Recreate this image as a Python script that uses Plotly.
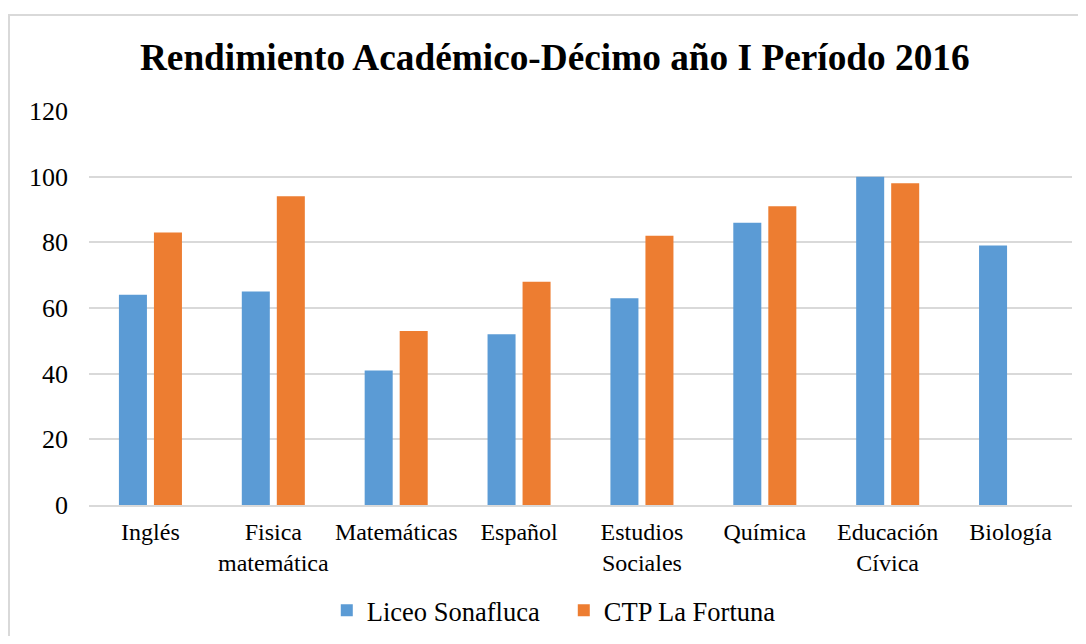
import plotly.graph_objects as go

materias = ["Inglés", "Fisica<br>matemática", "Matemáticas", "Español", "Estudios<br>Sociales",
            "Química", "Educación<br>Cívica", "Biología"]
liceo_sonafluca = [64, 65, 41, 52, 63, 86, 100, 79]
ctp_la_fortuna = [83, 94, 53, 68, 82, 91, 98, None]
y_ticks = [0, 20, 40, 60, 80, 100, 120]

font_fam = "Liberation Serif"

fig = go.Figure()
fig.add_trace(go.Bar(x=materias, y=liceo_sonafluca, name="Liceo Sonafluca",
                     marker=dict(color="#5B9BD5", line=dict(width=0))))
fig.add_trace(go.Bar(x=materias, y=ctp_la_fortuna, name="CTP La Fortuna",
                     marker=dict(color="#ED7D31", line=dict(width=0))))

# page has an 8px body margin, so the figure is a bit smaller than the window
fig.update_layout(
    width=1070, height=628,
    margin=dict(l=81, r=6, t=103, b=131, autoexpand=False),
    paper_bgcolor="white", plot_bgcolor="white",
    font=dict(family=font_fam, color="black", size=24),
    title=dict(text="<b>Rendimiento Académico-Décimo año I Período 2016</b>",
               x=0.511, xanchor="center", y=0.922, yanchor="middle",
               font=dict(size=37.3, family=font_fam, color="black")),
    barmode="group", bargap=0.43, bargroupgap=0.2,
    showlegend=True,
    legend=dict(orientation="h", x=0.483, xanchor="center", y=-0.268, yanchor="middle",
                font=dict(size=26.5, family=font_fam), itemsizing="constant",
                entrywidth=192, entrywidthmode="pixels"),
    xaxis=dict(showgrid=False, showline=True, linecolor="#d9d9d9", linewidth=1.5,
               ticks="", tickfont=dict(size=24, family=font_fam), ticklabelstandoff=4),
    yaxis=dict(range=[0, 120], tickvals=y_ticks, showgrid=True, gridcolor="#d9d9d9",
               gridwidth=1.5, zeroline=False, showline=False, ticks="",
               tickfont=dict(size=26, family=font_fam), ticklabelstandoff=20),
    shapes=[dict(type="rect", xref="paper", yref="paper",
                 x0=-0.0814, x1=1.05, y0=-0.5, y1=1.2437,
                 line=dict(color="#d9d9d9", width=2), fillcolor="rgba(0,0,0,0)", layer="below")],
)

fig.write_html("out.html")
